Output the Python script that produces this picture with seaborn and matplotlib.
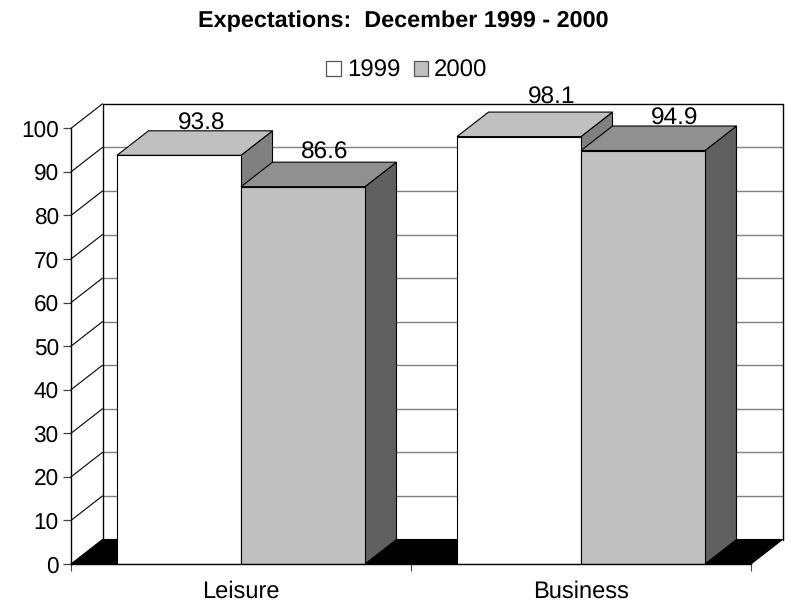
import matplotlib
matplotlib.use("Agg")
import matplotlib.pyplot as plt
import pandas as pd
import seaborn as sns
from matplotlib.patches import Polygon

categories = ["Leisure", "Business"]
values_1999 = [93.8, 98.1]
values_2000 = [86.6, 94.9]
series = ["1999", "2000"]
value_ticks = [0, 10, 20, 30, 40, 50, 60, 70, 80, 90, 100]
title = "Expectations:  December 1999 - 2000"

W, H = 790, 602
sns.set_theme(style="white")
plt.rcParams["font.family"] = ["Liberation Sans", "DejaVu Sans"]
plt.rcParams["text.color"] = "black"
plt.rcParams["axes.labelcolor"] = "black"
plt.rcParams["xtick.color"] = "black"
plt.rcParams["ytick.color"] = "black"
plt.rcParams["text.hinting"] = "no_hinting"

FS = 17
LW = 0.8
fig = plt.figure(figsize=(W / 100, H / 100), dpi=100, facecolor="white")
L, R, B, T = 71, 751, 564, 128.3
ax = fig.add_axes([L / W, 1 - B / H, (R - L) / W, (B - T) / H])

df = pd.DataFrame({
    "category": categories * 2,
    "value": values_1999 + values_2000,
    "year": [series[0]] * 2 + [series[1]] * 2,
})
front = {"1999": "#ffffff", "2000": "#c0c0c0"}
top = {"1999": "#c0c0c0", "2000": "#909090"}
side = {"1999": "#808080", "2000": "#606060"}

sns.barplot(data=df, x="category", y="value", hue="year", order=categories,
            hue_order=series, palette=front, width=0.7294, gap=0, dodge=True,
            saturation=1, edgecolor="black", linewidth=LW,
            errorbar=None, ax=ax)
ax.set_xlim(-0.5, 1.5)
ax.set_ylim(0, 100)
ax.set_xlabel("")
ax.set_ylabel("")

# depth of the pseudo-3D box in data units
dx = 31.5 / (R - L) * 2
dy = 24.5 / (B - T) * 100
x0, x1 = -0.5, 1.5

# back wall, side wall, floor
ax.add_patch(Polygon([(x0, 0), (x1, 0), (x1 + dx, dy), (x0 + dx, dy)], closed=True,
                     facecolor="black", edgecolor="black", lw=LW, clip_on=False, zorder=1.5))
for v in value_ticks[1:-1]:
    ax.plot([x0 + dx, x1 + dx], [v + dy, v + dy], color="#808080", lw=1.0,
            clip_on=False, zorder=1)
for v in value_ticks[1:]:
    ax.plot([x0, x0 + dx], [v, v + dy], color="black", lw=LW, clip_on=False, zorder=1.2)
ax.plot([x0 + dx, x0 + dx, x1 + dx, x1 + dx], [dy, 100 + dy, 100 + dy, dy],
        color="black", lw=1.0, clip_on=False, zorder=1.2)

# bars: side and top faces derived from the bars seaborn drew
z = 3
bars = []
for container, name in zip(ax.containers, series):
    for p in container.patches:
        bars.append((p, name))
bars.sort(key=lambda t: t[0].get_x())
for p, name in bars:
    xa, w, h = p.get_x(), p.get_width(), p.get_height()
    xb = xa + w
    ax.add_patch(Polygon([(xb, 0), (xb + dx, dy), (xb + dx, h + dy), (xb, h)], closed=True,
                         facecolor=side[name], edgecolor="black", lw=LW, clip_on=False, zorder=z))
    ax.add_patch(Polygon([(xa, h), (xa + dx, h + dy), (xb + dx, h + dy), (xb, h)], closed=True,
                         facecolor=top[name], edgecolor="black", lw=LW, clip_on=False, zorder=z + 0.1))
    p.set_zorder(z + 0.2)
    z += 1

# data labels: centred over the top face, nudged in pixels
nudges = {93.8: (23, 1), 86.6: (22, 3.5), 98.1: (33, 8), 94.9: (31.5, 1)}
px_x = 2 / (R - L)
px_y = 100 / (B - T)
for p, name in bars:
    h = p.get_height()
    nx, ny = nudges[round(h, 1)]
    ax.text(p.get_x() + p.get_width() / 2 + nx * px_x, h + dy + ny * px_y, f"{h:.1f}",
            ha="center", va="baseline", fontsize=17.6, color="black", clip_on=False,
            zorder=1.1 if h > 98 else 20)

# axes
for s in ["top", "right"]:
    ax.spines[s].set_visible(False)
for s in ["left", "bottom"]:
    ax.spines[s].set_color("black")
    ax.spines[s].set_linewidth(1.0)
    ax.spines[s].set_zorder(30)
ax.set_yticks(value_ticks)
ax.set_xticks([-0.5, 0.5, 1.5], labels=[])
ax.set_xticks([0, 1], labels=categories, minor=True)
ax.tick_params(axis="y", which="major", length=5.8, width=0.9, left=True, color="#444444",
               labelsize=16.3, pad=3)
ax.tick_params(axis="x", which="major", length=5, width=0.8, bottom=True, color="#444444")
ax.tick_params(axis="x", which="minor", length=0, labelsize=FS, pad=12)

# legend
sns.move_legend(ax, "center", bbox_to_anchor=(407 / W, 1 - 70.5 / H),
                bbox_transform=fig.transFigure, ncol=2, frameon=False, title=None,
                fontsize=17.3, handlelength=0.61, handleheight=0.57, handletextpad=0.25,
                columnspacing=0.55, borderpad=0, borderaxespad=0)
leg = ax.get_legend()
leg.set_zorder(40)
for hd in leg.get_patches():
    hd.set_linewidth(0.9)
    hd.set_edgecolor("#555555")

fig.text(403 / W, 1 - 27 / H, title, ha="center", va="baseline", fontsize=16.8, fontweight="bold")
fig.savefig("out.png", dpi=100)
